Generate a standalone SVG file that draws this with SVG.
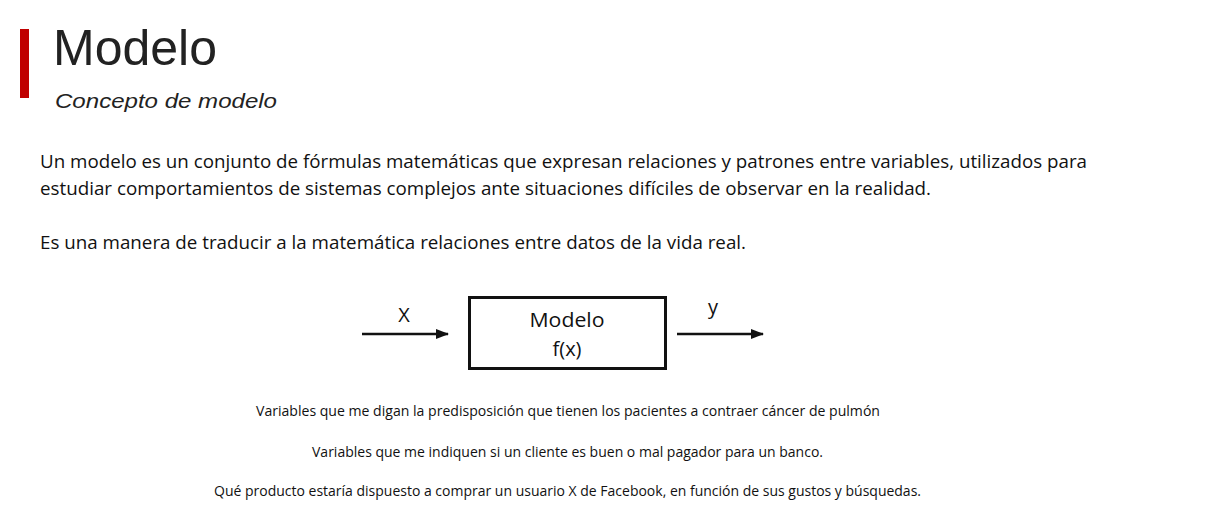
<svg xmlns="http://www.w3.org/2000/svg" width="1224" height="524" viewBox="0 0 1224 524">
<style>
.title{font-family:"Liberation Sans",Arial,sans-serif;font-size:50px;fill:#222}
.sub{font-family:"Liberation Sans",Arial,sans-serif;font-size:21px;font-style:italic;fill:#222}
.para{font-family:"Open Sans","Noto Sans",sans-serif;font-size:19px;fill:#111}
.lbl{font-family:"Open Sans","Noto Sans",sans-serif;font-size:20px;fill:#111;text-anchor:middle}
.ex{font-family:"Open Sans","Noto Sans",sans-serif;font-size:14px;fill:#111}
.edge{stroke:#111;stroke-width:2.5;fill:none}
</style>
<defs>
<marker id="ah" markerWidth="13" markerHeight="10" refX="12" refY="5" orient="auto" markerUnits="userSpaceOnUse">
<path d="M0,0 L13,5 L0,10 Z" fill="#111"/>
</marker>
</defs>
<rect width="1224" height="524" fill="#fff"/>
<g id="header">
<rect x="20" y="29" width="9" height="69" fill="#c00000"/>
<text class="title" x="53" y="65">Modelo</text>
<text class="sub" x="55" y="108" textLength="222" lengthAdjust="spacingAndGlyphs">Concepto de modelo</text>
</g>
<g id="description">
<text class="para" x="40" y="168" textLength="1047" lengthAdjust="spacingAndGlyphs">Un modelo es un conjunto de fórmulas matemáticas que expresan relaciones y patrones entre variables, utilizados para</text>
<text class="para" x="40" y="195" textLength="891" lengthAdjust="spacingAndGlyphs">estudiar comportamientos de sistemas complejos ante situaciones difíciles de observar en la realidad.</text>
<text class="para" x="40" y="249" textLength="706" lengthAdjust="spacingAndGlyphs">Es una manera de traducir a la matemática relaciones entre datos de la vida real.</text>
</g>
<g id="connectors">
<line class="edge" x1="362" y1="334" x2="448" y2="334" marker-end="url(#ah)"/>
<line class="edge" x1="677" y1="334" x2="763" y2="334" marker-end="url(#ah)"/>
<text class="lbl" x="404" y="322">X</text>
<text class="lbl" x="713" y="314">y</text>
</g>
<g id="modelo">
<rect x="469.5" y="297.5" width="196" height="71" fill="#fff" stroke="#111" stroke-width="3"/>
<text class="lbl" x="567" y="327" textLength="75" lengthAdjust="spacingAndGlyphs">Modelo</text>
<text class="lbl" x="567" y="356">f(x)</text>
</g>
<g id="examples">
<text class="ex" x="256" y="416" textLength="624" lengthAdjust="spacingAndGlyphs">Variables que me digan la predisposición que tienen los pacientes a contraer cáncer de pulmón</text>
<text class="ex" x="312" y="457" textLength="511" lengthAdjust="spacingAndGlyphs">Variables que me indiquen si un cliente es buen o mal pagador para un banco.</text>
<text class="ex" x="214" y="496" textLength="707" lengthAdjust="spacingAndGlyphs">Qué producto estaría dispuesto a comprar un usuario X de Facebook, en función de sus gustos y búsquedas.</text>
</g>
</svg>
